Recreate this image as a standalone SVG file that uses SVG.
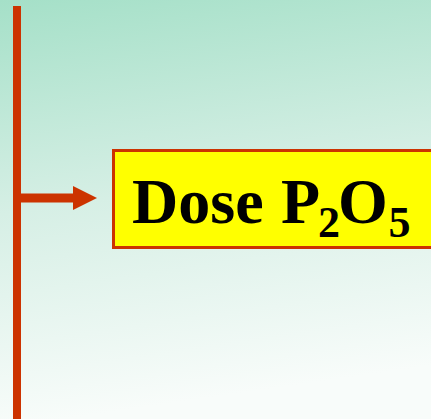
<svg xmlns="http://www.w3.org/2000/svg" width="431" height="419" viewBox="0 0 431 419">
  <defs>
    <linearGradient id="bg" x1="0" y1="0" x2="0.15" y2="1">
      <stop offset="0" stop-color="#A5E0C8"/>
      <stop offset="0.5" stop-color="#D6EFE5"/>
      <stop offset="1" stop-color="#F8FCFA"/>
    </linearGradient>
    <style>
      .red { fill: #CC3300; }
      .box { fill: #FFFF00; stroke: #CC3300; stroke-width: 3; }
      .lbl { font-family: "Liberation Serif", "Times New Roman", serif; font-weight: bold; fill: #000; }
    </style>
  </defs>
  <rect x="0" y="0" width="431" height="419" fill="url(#bg)"/>
  <g id="connectors">
    <rect class="red" x="13" y="6" width="8" height="413"/>
    <rect class="red" x="21" y="193.5" width="54" height="9"/>
    <polygon class="red" points="73,186 97,198 73,210"/>
  </g>
  <g id="node-dose">
    <rect class="box" x="113.5" y="150.5" width="330" height="97"/>
    <text class="lbl" x="132" y="222.5" font-size="64">Dose <tspan x="281">P</tspan><tspan x="318" font-size="44" dy="14">2</tspan><tspan x="338" dy="-14">O</tspan><tspan x="388.5" font-size="44" dy="14">5</tspan></text>
  </g>
</svg>
